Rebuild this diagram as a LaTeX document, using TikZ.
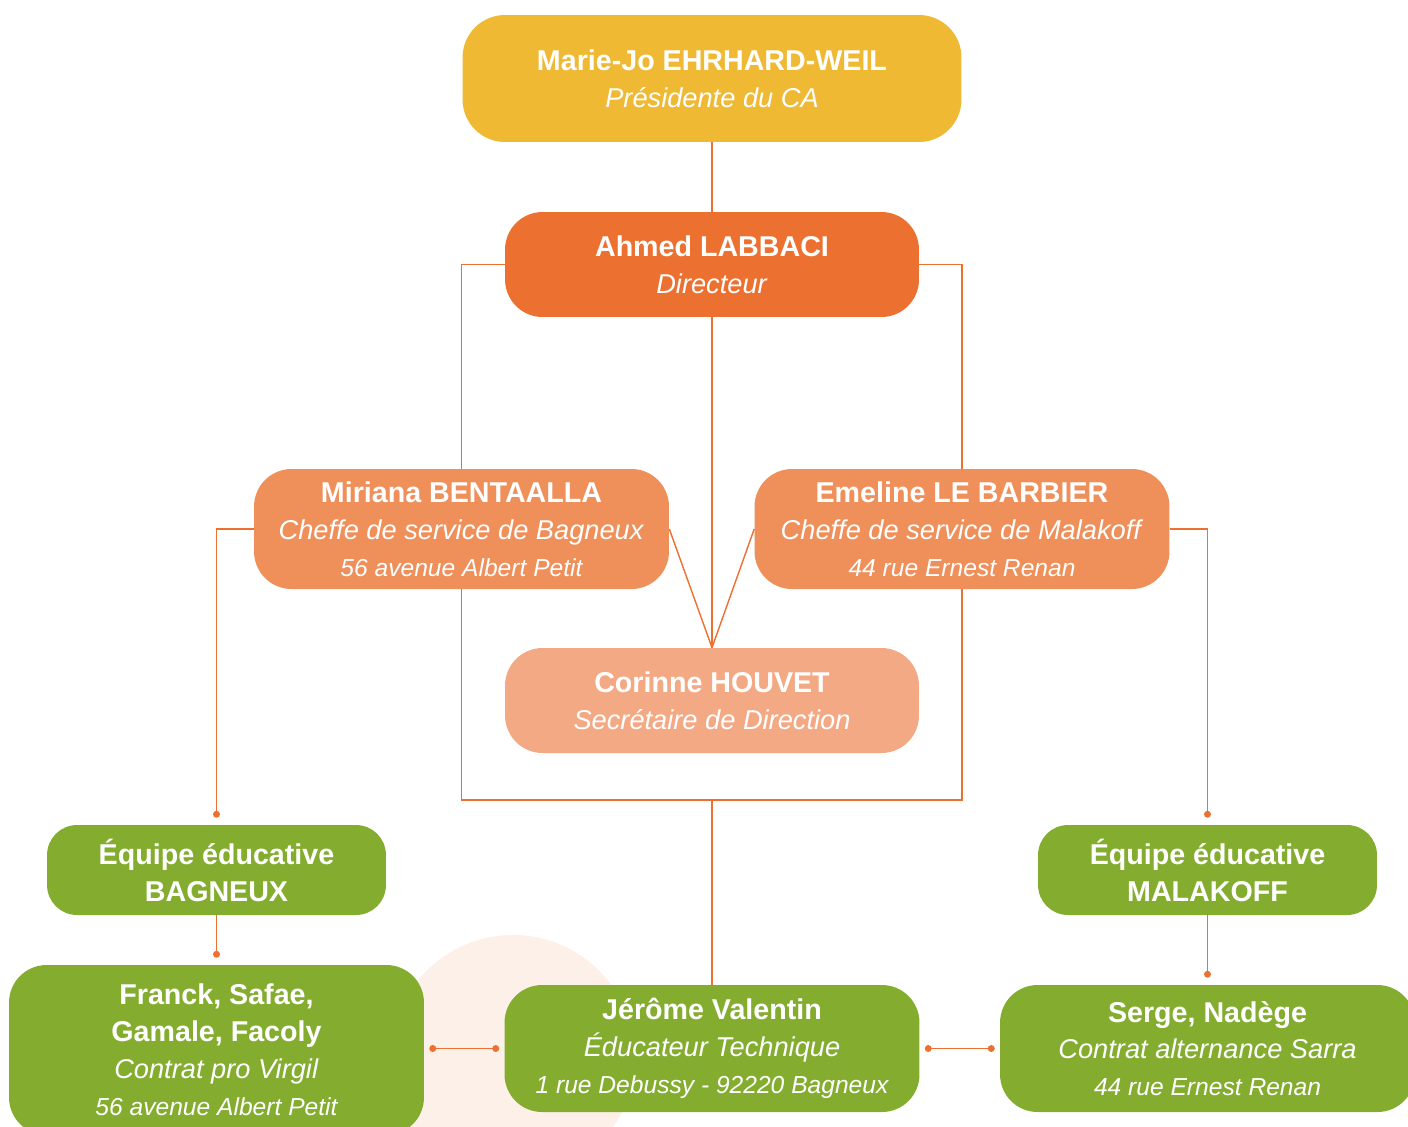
\documentclass[tikz,border=0pt]{standalone}
\usepackage{fontspec}
\setmainfont{Liberation Sans}
\usetikzlibrary{calc,arrows.meta}
\definecolor{presyellow}{HTML}{EFB934}
\definecolor{dirorange}{HTML}{EC7030}
\definecolor{chefsalmon}{HTML}{EF8F5A}
\definecolor{secpeach}{HTML}{F4A985}
\definecolor{teamgreen}{HTML}{84AD30}
\definecolor{linkorange}{HTML}{EC7030}
\definecolor{bgpeach}{HTML}{FDF0E9}
\newcommand{\nm}[1]{{\fontsize{16.3}{21}\selectfont\bfseries #1}}
\newcommand{\addr}[1]{{\fontsize{14}{21}\selectfont\itshape #1}}
\tikzset{
  box/.style={rounded corners=0.75cm, text=white, align=center, inner sep=0pt,
    font=\fontsize{15.5}{21}\selectfont},
  presbox/.style={box, fill=presyellow, rounded corners=0.85cm, minimum width=9.98cm, minimum height=2.54cm},
  dirbox/.style={box, fill=dirorange, minimum width=8.28cm, minimum height=2.1cm},
  chefbox/.style={box, fill=chefsalmon, minimum width=8.3cm, minimum height=2.4cm},
  secbox/.style={box, fill=secpeach, minimum width=8.28cm, minimum height=2.1cm},
  teambox/.style={box, fill=teamgreen, rounded corners=0.6cm, minimum width=6.78cm, minimum height=1.8cm},
  staffbox/.style={box, fill=teamgreen, minimum width=8.3cm, minimum height=2.54cm},
  link/.style={draw=linkorange, line width=0.8pt},
  enddot/.style={link, -{Circle[length=3.9pt]}},
  bothdots/.style={link, {Circle[length=3.9pt]}-{Circle[length=3.9pt]}},
}
\begin{document}
\begin{tikzpicture}[x=0.02cm, y=-0.02cm]
			%%%%% START %%%%%
			\useasboundingbox (0, 0) rectangle (1408, 1126);
			
			\fill[bgpeach] (513, 1057) circle (122);
			
			\node[presbox] (pres) at (712, 78.5) {\nm{Marie-Jo EHRHARD-WEIL}\\\textit{Présidente du CA}};
			\node[dirbox] (dir) at (712, 264.5) {\nm{Ahmed LABBACI}\\\textit{Directeur}};
			
			\node[chefbox] (miri) at (461.5, 529) {\nm{Miriana BENTAALLA}\\\textit{Cheffe de service de Bagneux}\\\addr{56 avenue Albert Petit}};
			\node[chefbox] (emel) at (962, 529) {\nm{Emeline LE BARBIER}\\\textit{Cheffe de service de Malakoff}\\\addr{44 rue Ernest Renan}};
			\node[secbox] (cori) at (712, 700.5) {\nm{Corinne HOUVET}\\\textit{Secrétaire de Direction}};
			
			\node[teambox] (eqbag) at (216.5, 870) {\nm{Équipe éducative}\\\nm{BAGNEUX}};
			\node[teambox] (eqmal) at (1207.5, 870) {\nm{Équipe éducative}\\\nm{MALAKOFF}};
			
			\node[staffbox, minimum height=3.4cm] (franck) at (216.5, 1050) {\nm{Franck, Safae,}\\\nm{Gamale, Facoly}\\\textit{Contrat pro Virgil}\\\addr{56 avenue Albert Petit}};
			\node[staffbox] (jero) at (712, 1048.5) {\nm{Jérôme Valentin}\\\textit{Éducateur Technique}\\\addr{1 rue Debussy - 92220 Bagneux}};
			\node[staffbox] (serge) at (1207.5, 1048.5) {\nm{Serge, Nadège}\\\textit{Contrat alternance Sarra}\\\addr{44 rue Ernest Renan}};
			
			\coordinate (bus) at (712, 800);
			
			\draw[link] (pres.south) -- (dir.north);
			\draw[link] (dir.west) -| (miri.north);
			\draw[link] (dir.east) -| (emel.north);
			\draw[link] (dir.south) -- (cori.north);
			\draw[link] (miri.east) -- (cori.north);
			\draw[link] (emel.west) -- (cori.north);
			\draw[link] (miri.south) |- (bus) -| (emel.south);
			\draw[link] (bus) -- (jero.north);
			
			\draw[enddot] (miri.west) -| ($(eqbag.north)+(0, -7)$);
			\draw[enddot] (emel.east) -| ($(eqmal.north)+(0, -7)$);
			\draw[enddot] (eqbag.south) -- ($(franck.north)+(0, -7)$);
			\draw[enddot] (eqmal.south) -- ($(serge.north)+(0, -7)$);
			
			\draw[bothdots] ($(jero.west)+(-5, 0)$) -- ($(franck.east |- jero.west)+(5, 0)$);
			\draw[bothdots] ($(jero.east)+(5, 0)$) -- ($(serge.west)+(-5, 0)$);
			
			%%%%% END %%%%%
\end{tikzpicture}
\end{document}
